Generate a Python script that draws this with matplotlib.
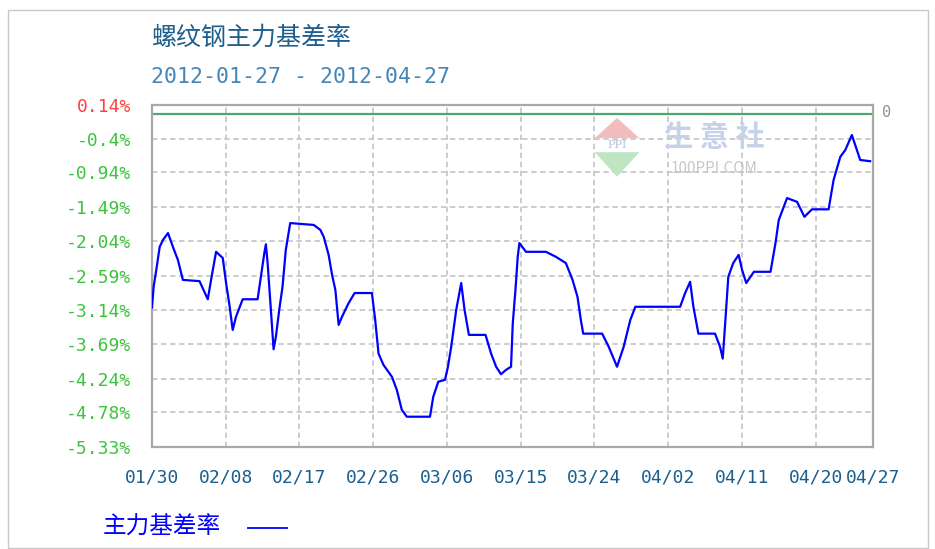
import matplotlib
matplotlib.use("Agg")
import matplotlib.pyplot as plt
from matplotlib.patches import Polygon, Rectangle
import pandas as pd

plt.rcParams['font.family'] = ['Noto Sans CJK SC', 'DejaVu Sans']

# data (x = days after 2012-01-30, y = basis %)
start = "2012-01-30"
days = [0, 0.2, 0.5, 0.94, 1.34, 1.95, 2.55, 3.16, 3.77, 5.8, 6.81, 7.21, 7.82, 8.64,
        9.04, 9.45, 9.85, 10.25, 11.07, 12.89, 13.29, 13.71, 13.9, 14.11, 14.51, 14.84,
        15.12, 15.53, 15.93, 16.33, 16.87, 19.74, 20.55, 20.96, 21.56, 21.98, 22.38,
        22.78, 23.19, 24.0, 24.73, 26.84, 27.24, 27.65, 28.25, 29.28, 29.88, 30.49,
        31.1, 33.93, 34.33, 34.94, 35.76, 36.12, 36.52, 37.13, 37.74, 38.15, 38.68,
        40.71, 41.39, 42.0, 42.6, 43.21, 43.82, 44.03, 44.36, 44.64, 44.84, 45.65,
        48.08, 49.29, 50.51, 51.33, 51.93, 52.34, 52.63, 54.94, 55.74, 56.76, 57.57,
        58.38, 58.99, 64.46, 65.07, 65.68, 66.08, 66.69, 68.72, 69.33, 69.66, 69.93,
        70.34, 70.94, 71.6, 72.02, 72.53, 73.46, 75.49, 76.1, 76.5, 77.51, 78.73,
        79.63, 80.55, 82.58, 83.19, 84.01, 84.62, 85.42, 86.44, 87.65]
basis_pct = [-3.10, -2.77, -2.52, -2.13, -2.02, -1.91, -2.13, -2.34, -2.66, -2.68, -2.97,
             -2.66, -2.21, -2.31, -2.71, -3.06, -3.46, -3.25, -2.97, -2.97, -2.61, -2.23,
             -2.09, -2.39, -3.14, -3.77, -3.57, -3.14, -2.77, -2.18, -1.75, -1.78, -1.86,
             -1.97, -2.26, -2.58, -2.82, -3.38, -3.25, -3.03, -2.87, -2.87, -3.30, -3.84,
             -4.02, -4.21, -4.42, -4.74, -4.85, -4.85, -4.53, -4.29, -4.26, -4.05, -3.73,
             -3.14, -2.71, -3.14, -3.54, -3.54, -3.84, -4.05, -4.17, -4.10, -4.05, -3.36,
             -2.82, -2.29, -2.07, -2.21, -2.21, -2.29, -2.39, -2.66, -2.93, -3.30, -3.52,
             -3.52, -3.73, -4.05, -3.73, -3.30, -3.09, -3.09, -2.87, -2.69, -3.09, -3.52,
             -3.52, -3.73, -3.92, -3.41, -2.61, -2.39, -2.26, -2.50, -2.71, -2.53, -2.53,
             -2.07, -1.70, -1.35, -1.41, -1.65, -1.53, -1.53, -1.06, -0.69, -0.58, -0.34,
             -0.74, -0.76]

y_ticks = [0.14, -0.4, -0.94, -1.49, -2.04, -2.59, -3.14, -3.69, -4.24, -4.78, -5.33]
tick_dates = ["2012-01-30", "2012-02-08", "2012-02-17", "2012-02-26", "2012-03-06",
              "2012-03-15", "2012-03-24", "2012-04-02", "2012-04-11", "2012-04-20",
              "2012-04-27"]
tick_labels = ["01/30", "02/08", "02/17", "02/26", "03/06", "03/15", "03/24",
               "04/02", "04/11", "04/20", "04/27"]

title = "螺纹钢主力基差率"
subtitle = "2012-01-27 - 2012-04-27"
series_name = "主力基差率"

tick_days = list((pd.to_datetime(tick_dates) - pd.Timestamp(start)).days)

W, H = 935, 549
fig = plt.figure(figsize=(W / 100, H / 100), dpi=100)
ax = fig.add_axes([152 / W, 1 - 446.7 / H, (873 - 152) / W, (446.7 - 105) / H])

# outer frame of the picture
fig.patches.append(Rectangle((8 / W, 1 / H), (928 - 8) / W, (539 - 1) / H,
                             transform=fig.transFigure, fill=False,
                             edgecolor="#c8c8c8", lw=1))

ax.set_xlim(0, tick_days[-1] - 0.3)
ax.set_ylim(y_ticks[-1], y_ticks[0])

for yv in y_ticks[1:-1]:
    ax.axhline(yv, color="#c8c8c8", lw=1.3, ls=(0, (3, 2)), zorder=1)
for xv in tick_days[1:-1]:
    ax.axvline(xv, color="#c8c8c8", lw=1.3, ls=(0, (3, 2)), zorder=1)

# watermark (logo + site name)
ax.text(0.78, 0.905, "生 意 社", transform=ax.transAxes, fontsize=21,
        color="#c5d2e8", fontweight="bold", ha="center", va="center", zorder=1)
ax.text(0.78, 0.815, "100PPI.COM", transform=ax.transAxes, fontsize=11,
        color="#c8c8c8", ha="center", va="center", zorder=1)
ax.add_patch(Polygon([[0.614, 0.903], [0.676, 0.903], [0.645, 0.962]], closed=True,
                     transform=ax.transAxes, color="#f3bcbc", lw=0, zorder=1))
ax.add_patch(Polygon([[0.614, 0.862], [0.676, 0.862], [0.645, 0.79]], closed=True,
                     transform=ax.transAxes, color="#bfe5c3", lw=0, zorder=1))
ax.text(0.645, 0.882, "PPI", transform=ax.transAxes, fontsize=8, color="#b8c2dc",
        family="DejaVu Serif", ha="center", va="center", zorder=1)

ax.axhline(0, color="#4da870", lw=1.6, zorder=2)
ax.plot(days, basis_pct, color="#0000ff", lw=1.6, zorder=3)

for s in ax.spines.values():
    s.set_color("#a8a8a8")
    s.set_linewidth(1.6)

ax.set_yticks(y_ticks)
ax.set_yticklabels([f"{v:g}%" for v in y_ticks], family="DejaVu Sans Mono", fontsize=13)
for lab, v in zip(ax.get_yticklabels(), y_ticks):
    lab.set_color("#ff4040" if v > 0 else "#3dc43d")
ax.set_xticks(tick_days)
ax.set_xticklabels(tick_labels, family="DejaVu Sans Mono", fontsize=13, color="#1a5f8f")
ax.tick_params(axis="y", length=0, pad=15)
ax.tick_params(axis="x", length=0, pad=16)

ax.text(1.012, 0.02, "0", transform=ax.get_yaxis_transform(), fontsize=11,
        color="#909090", family="DejaVu Sans Mono", ha="left", va="center")

fig.text(152 / W, 1 - 38 / H, title, fontsize=18, color="#1e5f8e", ha="left", va="center")
fig.text(151 / W, 1 - 77 / H, subtitle, fontsize=15.5, color="#4585b5",
         family="DejaVu Sans Mono", ha="left", va="center")

fig.text(103 / W, 1 - 527 / H, series_name, fontsize=17, color="#0000ff",
         ha="left", va="center")
fig.lines.append(plt.Line2D([248 / W, 287 / W], [1 - 528 / H, 1 - 528 / H],
                            transform=fig.transFigure, color="#0000ff", lw=1.3))

fig.savefig("out.png", dpi=100)
